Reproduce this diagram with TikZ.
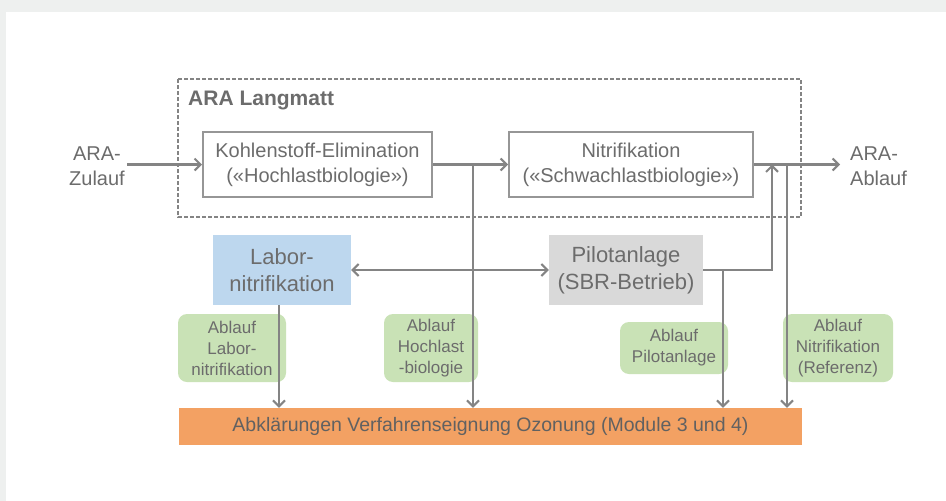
\documentclass[tikz,border=0pt]{standalone}
\usepackage{fontspec}
\setmainfont{Liberation Sans}
\usetikzlibrary{arrows.meta}
\definecolor{bggray}{HTML}{EEF0EF}
\definecolor{linegray}{HTML}{848484}
\definecolor{txtgray}{HTML}{6C6C6C}
\definecolor{boxblue}{HTML}{BDD7EE}
\definecolor{boxgray}{HTML}{D9D9D9}
\definecolor{boxgreen}{HTML}{C9E2B6}
\definecolor{boxorange}{HTML}{F3A163}
\tikzset{
  tip/.tip={Straight Barb[length=6pt,width=12pt,line width=2pt]},
  conn/.style={draw=linegray, line width=2.6pt, -tip},
  txt/.style={text=txtgray, font=\fontsize{20}{25}\selectfont, align=center, inner sep=0pt},
  whitebox/.style={draw=linegray!85, line width=2pt, fill=white, text=txtgray, font=\fontsize{20}{25}\selectfont, align=center, inner sep=0pt},
  bigbox/.style={text=txtgray, font=\fontsize{22}{27}\selectfont, align=center, inner sep=0pt, minimum height=70pt},
  greenbox/.style={fill=boxgreen, rounded corners=9pt, text=txtgray, font=\fontsize{17}{21}\selectfont, align=center, inner sep=0pt},
}
\begin{document}
\begin{tikzpicture}[x=1pt,y=-1pt]
\fill[bggray] (0,0) rectangle (946,501);
\fill[white] (6,12) rectangle (946,501);
\useasboundingbox (0,0) rectangle (946,501);

% dashed frame
\draw[draw=linegray, line width=2.6pt, dash pattern=on 4pt off 2pt] (178,79) rectangle (801,217);
\node[anchor=west, text=txtgray, font=\bfseries\fontsize{21}{25}\selectfont, inner sep=0pt] (title) at (188,100) {ARA Langmatt};

% main boxes
\node[whitebox, minimum width=229pt, minimum height=65pt] (kohl) at (317.5,164.5) {Kohlenstoff-Elimination\\(«Hochlastbiologie»)};
\node[whitebox, minimum width=244pt, minimum height=65pt] (nitr) at (631,164.5) {Nitrifikation\\(«Schwachlastbiologie»)};

% in/out labels
\node[txt] (zulauf) at (97,166) {ARA-\\Zulauf};
\node[txt, anchor=west, align=left] (ablauf) at (850,166) {ARA-\\Ablauf};

% second row
\node[bigbox, fill=boxblue, minimum width=138pt] (labor) at (282,270) {Labor-\\nitrifikation};
\node[bigbox, fill=boxgray, minimum width=154pt] (pilot) at (626,270) {Pilotanlage\\(SBR-Betrieb)};

% green labels
\node[greenbox, minimum width=108pt, minimum height=68pt] (g1) at (232,348) {Ablauf\\Labor-\\nitrifikation};
\node[greenbox, minimum width=94pt, minimum height=68pt] (g2) at (431,348) {Ablauf\\Hochlast\\-biologie};
\node[greenbox, minimum width=108pt, minimum height=52pt] (g3) at (674,348) {Ablauf\\Pilotanlage};
\node[greenbox, minimum width=110pt, minimum height=68pt] (g4) at (838,348) {Ablauf\\Nitrifikation\\(Referenz)};

% orange bar
\node[fill=boxorange, minimum width=623pt, minimum height=37pt, inner sep=0pt, text=txtgray!90!black, font=\fontsize{19.5}{24}\selectfont] (orange) at (490.5,426.5) {Abklärungen Verfahrenseignung Ozonung (Module 3 und 4)};

% coordinates
\coordinate (zin) at (127,164.5);
\coordinate (aout) at (840,164.5);
\coordinate (j1) at (473,164.5);
\coordinate (j3) at (772,164.5);
\coordinate (j4) at (787,164.5);
\coordinate (j5) at (723,270);
\coordinate (lab) at (279,305);

% connectors
\draw[conn] (zin) -- (kohl.west);
\draw[conn] (kohl.east) -- (nitr.west);
\draw[conn] (nitr.east) -- (aout);
\draw[conn] (j1) -- (j1 |- orange.north);
\draw[conn] (j4) -- (j4 |- orange.north);
\draw[conn] (pilot.east) -| (j3);
\draw[conn] (j5) -- (j5 |- orange.north);
\draw[conn, tip-tip] (labor.east) -- (pilot.west);
\draw[conn] (lab) -- (lab |- orange.north);
\end{tikzpicture}
\end{document}
